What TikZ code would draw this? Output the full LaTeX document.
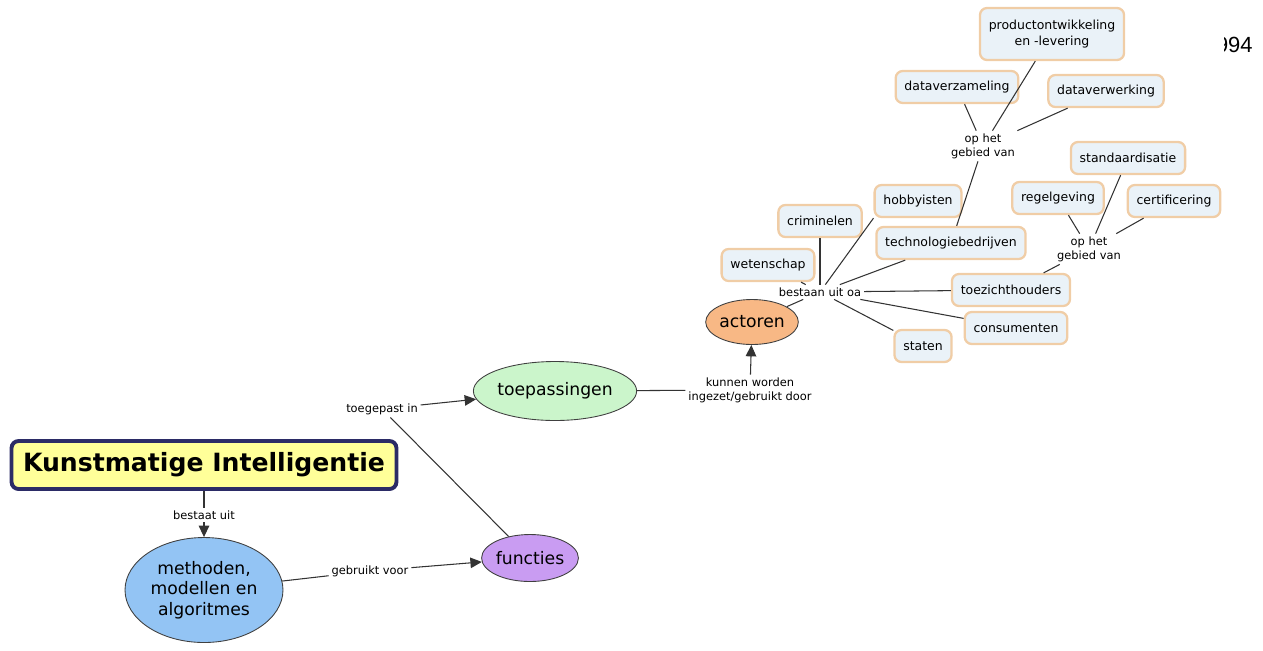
\documentclass[tikz,border=0pt]{standalone}
\usepackage{fontspec}
\setmainfont{DejaVu Sans}
\newfontfamily\yearfont{Liberation Sans}
\usetikzlibrary{shapes.geometric,arrows.meta}

\definecolor{titlefill}{HTML}{FFFF99}
\definecolor{titleedge}{HTML}{2B2B66}
\definecolor{methfill}{HTML}{93C4F4}
\definecolor{funcfill}{HTML}{C99CF2}
\definecolor{toepfill}{HTML}{CBF5CB}
\definecolor{actfill}{HTML}{F8B885}
\definecolor{boxfill}{HTML}{EAF2F8}
\definecolor{boxedge}{HTML}{F0CDA6}

\tikzset{
  concept/.style={ellipse, draw=black!75, line width=0.5pt, inner sep=0pt,
    align=center, font=\fontsize{9.8}{11.7}\selectfont},
  item/.style={rectangle, rounded corners=4pt, draw=boxedge, line width=1.3pt,
    fill=boxfill, align=center, inner xsep=5pt, minimum height=0.64cm,
    font=\fontsize{7.1}{8.6}\selectfont},
  link/.style={inner sep=1.5pt, align=center, font=\fontsize{6.5}{7.8}\selectfont},
  conn/.style={draw=black!80, line width=0.6pt},
  arr/.style={conn, -{Triangle[length=6.5pt,width=6pt]}}
}

\begin{document}
\begin{tikzpicture}[x=0.02cm, y=-0.02cm]
	\useasboundingbox (0,0) rectangle (1263,650);

	% Main concept
	\node[rectangle, rounded corners=4pt, draw=titleedge, line width=2.2pt, fill=titlefill,
	  minimum width=7.7cm, minimum height=0.96cm,
	  font=\fontsize{14.3}{16}\selectfont\bfseries] (kia) at (204,465) {Kunstmatige Intelligentie};

	% Concepts
	\node[concept, fill=methfill, minimum width=3.16cm, minimum height=2.1cm] (methoden) at (204,590) {methoden,\\modellen en\\algoritmes};
	\node[concept, fill=funcfill, minimum width=1.76cm, minimum height=0.94cm] (functies) at (530,558) {functies};
	\node[concept, fill=toepfill, minimum width=2.72cm, minimum height=1.18cm] (toepassingen) at (555,391) {toepassingen};
	\node[concept, fill=actfill, minimum width=1.74cm, minimum height=0.9cm] (actoren) at (752,322) {actoren};

	% Linking phrases
	\node[link] (lbestaat) at (204,515) {bestaat uit};
	\node[link] (lgebruikt) at (370,571) {gebruikt voor};
	\node[link] (ltoegepast) at (382,409) {toegepast in};
	\node[link] (lkunnen) at (750,390) {kunnen worden\\ingezet/gebruikt door};
	\node[link] (lbestaan) at (820,292) {bestaan uit oa};
	\node[link] (lgebied) at (983,146) {op het\\gebied van};
	\node[link] (lgebiedb) at (1089,249) {op het\\gebied van};

	% Actors
	\node[item] (wetenschap) at (768,265) {wetenschap};
	\node[item] (criminelen) at (820,221) {criminelen};
	\node[item] (hobbyisten) at (918,201) {hobbyisten};
	\node[item] (techbedr) at (951,243) {technologiebedrijven};
	\node[item] (toezicht) at (1011,290) {toezichthouders};
	\node[item] (consumenten) at (1016,328) {consumenten};
	\node[item] (staten) at (923,346) {staten};

	% Fields
	\node[item, minimum height=1.04cm] (product) at (1052,34) {productontwikkeling\\en -levering};
	\node[item] (dataverz) at (957,87) {dataverzameling};
	\node[item] (dataverw) at (1106,91) {dataverwerking};
	\node[item] (standaard) at (1128,158) {standaardisatie};
	\node[item] (regelgeving) at (1058,198) {regelgeving};
	\node[item] (certificering) at (1174,201) {certificering};

	% Connections
	\draw[conn] (kia) -- (lbestaat);
	\draw[arr] (lbestaat) -- (methoden);
	\draw[conn] (methoden) -- (lgebruikt);
	\draw[arr] (lgebruikt) -- (functies);
	\draw[conn] (functies) -- (ltoegepast);
	\draw[arr] (ltoegepast) -- (toepassingen);
	\draw[conn] (toepassingen) -- (lkunnen);
	\draw[arr] (lkunnen) -- (actoren);
	\draw[conn] (actoren) -- (lbestaan);

	\draw[conn] (lbestaan) -- (wetenschap);
	\draw[conn] (lbestaan) -- (criminelen);
	\draw[conn] (lbestaan) -- (hobbyisten.south west);
	\draw[conn] (lbestaan) -- (techbedr);
	\draw[conn] (lbestaan) -- (toezicht);
	\draw[conn] (lbestaan) -- (consumenten);
	\draw[conn] (lbestaan) -- (staten);

	\draw[conn] (techbedr) -- (lgebied);
	\draw[conn] (lgebied) -- (dataverz);
	\draw[conn] (lgebied) -- (product);
	\draw[conn] (lgebied) -- (dataverw);

	\draw[conn] (toezicht) -- (lgebiedb);
	\draw[conn] (lgebiedb) -- (standaard);
	\draw[conn] (lgebiedb) -- (regelgeving);
	\draw[conn] (lgebiedb) -- (certificering);

	% Cut-off year at the edge
	\begin{scope}
	  \clip (1224,25) rectangle (1263,62);
	  \node[anchor=east, inner sep=0pt, font=\yearfont\fontsize{12.5}{14}\selectfont] (jaar) at (1253,45) {1994};
	\end{scope}
\end{tikzpicture}
\end{document}
